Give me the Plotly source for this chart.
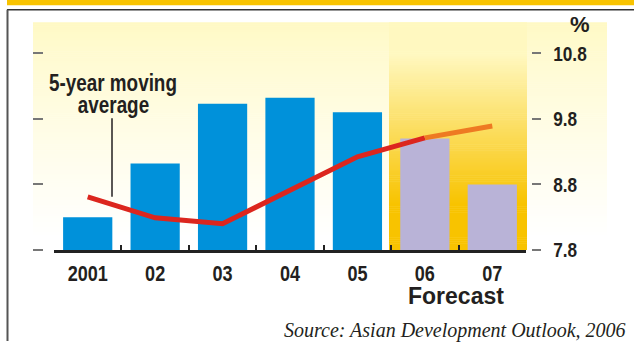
import plotly.graph_objects as go

W, H = 634, 352

# ---- data ----
years = ["2001", "02", "03", "04", "05", "06", "07"]
growth = [8.30, 9.12, 10.03, 10.12, 9.90, 9.50, 8.80]
avg_years = ["2001", "02", "03", "04", "05", "06"]
moving_avg = [8.61, 8.29, 8.20, 8.72, 9.22, 9.51]
fc_years = ["06", "07"]
fc_avg = [9.51, 9.69]
ytick_vals = [7.8, 8.8, 9.8, 10.8]
ytick_text = ["7.8", "8.8", "9.8", "10.8"]

BLUE = "#0091DA"
LAV = "#B9B3D7"
RED = "#DC261E"
ORANGE = "#EE7A22"
TXT = "#231F20"
SANS = "Liberation Sans, Arial, sans-serif"

bar_colors = [BLUE] * 5 + [LAV] * 2

def px(x):
    return x / W

def py(y):
    return 1 - y / H

def mix(c1, c2, t):
    t = max(0.0, min(1.0, t))
    return "rgb(%d,%d,%d)" % tuple(round(a + (b - a) * t) for a, b in zip(c1, c2))

shapes = []
# top yellow band
shapes.append(dict(type="rect", xref="paper", yref="paper", x0=px(7), x1=px(634), y0=py(0), y1=py(5.5),
                   fillcolor="#F8C300", line=dict(width=0), layer="below"))
# frame lines
shapes.append(dict(type="line", xref="paper", yref="paper", x0=px(7), x1=px(634), y0=py(10), y1=py(10),
                   line=dict(color="#333333", width=1.5)))
shapes.append(dict(type="line", xref="paper", yref="paper", x0=px(7.5), x1=px(7.5), y0=py(10), y1=py(352),
                   line=dict(color="#555555", width=2)))

# main pale-yellow gradient background
top_c = (255, 249, 196)
white = (255, 255, 255)
y = 23
step = 2
while y < 262:
    t = (y - 23) / (245 - 23)
    shapes.append(dict(type="rect", xref="paper", yref="paper", x0=px(33), x1=px(607),
                       y0=py(y + step + 0.5), y1=py(y), fillcolor=mix(top_c, white, t ** 0.8),
                       line=dict(width=0), layer="below"))
    y += step

# forecast gradient region
fc_top = (255, 248, 192)
fc_bot = (248, 195, 0)
y = 23
while y < 258:
    if y < 55:
        c = mix(fc_top, fc_top, 0)
    else:
        c = mix(fc_top, fc_bot, (y - 55) / (210 - 55))
    shapes.append(dict(type="rect", xref="paper", yref="paper", x0=px(389), x1=px(527),
                       y0=py(min(y + step + 0.5, 258)), y1=py(y), fillcolor=c,
                       line=dict(width=0), layer="below"))
    y += step

# pointer line for annotation
shapes.append(dict(type="line", xref="paper", yref="paper", x0=px(112), x1=px(112), y0=py(122), y1=py(203),
                   line=dict(color=TXT, width=1.5)))

fig = go.Figure()
fig.add_trace(go.Bar(x=years, y=growth, marker=dict(color=bar_colors, line=dict(width=0)),
                     width=0.73, showlegend=False))
fig.add_trace(go.Scatter(x=avg_years, y=moving_avg, mode="lines",
                         line=dict(color=RED, width=5), showlegend=False))
fig.add_trace(go.Scatter(x=fc_years, y=fc_avg, mode="lines",
                         line=dict(color=ORANGE, width=5), showlegend=False))
# invisible helper trace for the left tick axis
fig.add_trace(go.Scatter(x=[years[0]], y=[ytick_vals[0]], yaxis="y2", mode="markers",
                         marker=dict(opacity=0), showlegend=False, hoverinfo="skip"))

ylo, yhi = 7.8, 10.8 + (55 - 23) / ((258 - 55) / 3)

annotations = [
    dict(text="5-year moving", x=px(112.5), y=py(86), xref="paper", yref="paper", showarrow=False,
         xanchor="center", yanchor="middle", font=dict(family=SANS, size=23, color=TXT, weight="bold")),
    dict(text="average", x=px(113), y=py(108), xref="paper", yref="paper", showarrow=False,
         xanchor="center", yanchor="middle", font=dict(family=SANS, size=23, color=TXT, weight="bold")),
    dict(text="%", x=px(580), y=py(25), xref="paper", yref="paper", showarrow=False,
         xanchor="center", yanchor="middle", font=dict(family=SANS, size=22, color=TXT, weight="bold")),
    dict(text="Forecast", x=px(456), y=py(306), xref="paper", yref="paper", showarrow=False,
         xanchor="center", yanchor="middle", font=dict(family=SANS, size=23, color=TXT, weight="bold")),
    dict(text="<i>Source: Asian Development Outlook, 2006</i>", x=px(628), y=py(341), xref="paper", yref="paper",
         showarrow=False, xanchor="right", yanchor="middle",
         font=dict(family="Liberation Serif, Times New Roman, serif", size=20, color=TXT)),
]

fig.update_layout(
    width=W, height=H,
    margin=dict(l=0, r=0, t=0, b=0),
    paper_bgcolor="white",
    plot_bgcolor="rgba(0,0,0,0)",
    shapes=shapes,
    annotations=annotations,
    xaxis=dict(domain=[px(54), px(526)], type="category", categoryorder="array", categoryarray=years,
               showline=True, linecolor="#222222", linewidth=3, ticks="inside", tickson="boundaries",
               ticklen=5, tickwidth=2, tickcolor="#222222", showgrid=False, zeroline=False,
               tickfont=dict(family=SANS, size=22, color=TXT, weight="bold"), ticklabelstandoff=2,
               anchor="y"),
    yaxis=dict(domain=[py(258), py(23)], range=[ylo, yhi], side="right", anchor="free", position=px(531),
               tickvals=ytick_vals, ticktext=ytick_text, ticks="outside", ticklen=9, tickwidth=2,
               tickcolor="#777777", showline=False, showgrid=False, zeroline=False,
               tickfont=dict(family=SANS, size=21, color=TXT, weight="bold"), ticklabelstandoff=8),
    yaxis2=dict(overlaying="y", matches="y", side="left", anchor="free", position=px(43),
                tickvals=ytick_vals, ticks="outside", ticklen=10, tickwidth=2, tickcolor="#777777",
                showticklabels=False, showline=False, showgrid=False, zeroline=False),
)

# condense the bold sans labels horizontally (the original uses a narrow typeface)
post = """
var gd = document.getElementById('{plot_id}');
function cond(el, s) {
  var L = el.getComputedTextLength();
  if (L > 0) {
    el.setAttribute('textLength', (L * s).toFixed(2));
    el.setAttribute('lengthAdjust', 'spacingAndGlyphs');
  }
}
gd.querySelectorAll('.xtick text, .ytick text').forEach(function (t) { cond(t, 0.82); });
[0, 1].forEach(function (i) {
  var t = gd.querySelector('.annotation[data-index="' + i + '"] text');
  if (t) cond(t, 0.82);
});
"""

fig.write_html("out.html", post_script=post)
